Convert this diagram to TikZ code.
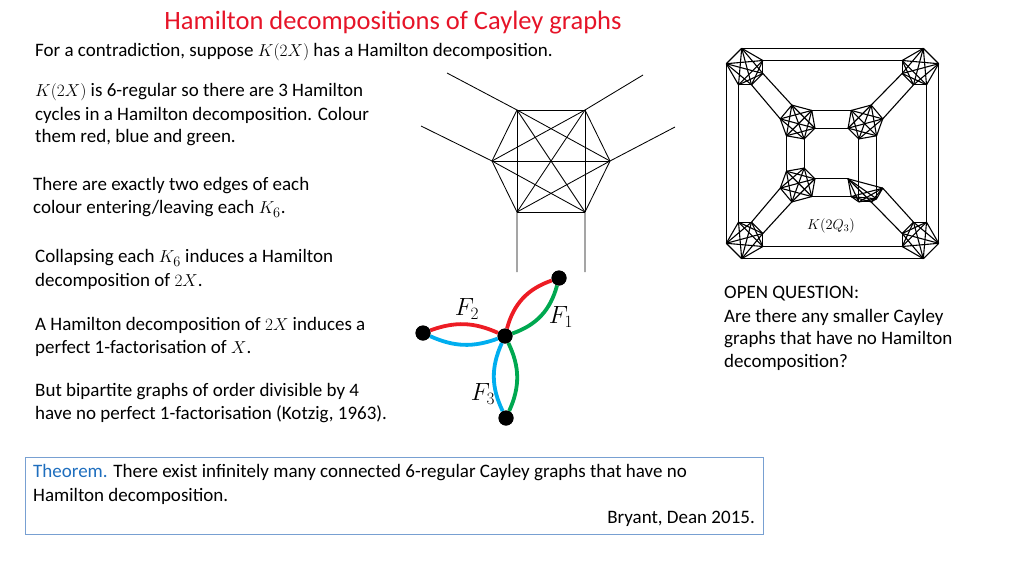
\documentclass[tikz,border=0pt]{standalone}
\usepackage{fontspec}
\setmainfont{Carlito}
\usetikzlibrary{calc}
\definecolor{tred}{RGB}{230,20,40}
\definecolor{fred}{RGB}{237,28,36}
\definecolor{fblue}{RGB}{0,174,239}
\definecolor{fgreen}{RGB}{0,168,80}
\definecolor{boxblue}{RGB}{120,160,210}
\definecolor{thblue}{RGB}{30,110,190}
\newcommand\kcl[5]{%
 \foreach \a [count=\i] in {#5} {\coordinate (#1-\i) at ($(#2,#3)+({#4*cos(\a)},{-#4*sin(\a)})$);}
 \foreach \i in {1,...,6}{\foreach \j in {\i,...,6}{\ifnum\i<\j \draw[kline] (#1-\i)--(#1-\j);\fi}}}
\begin{document}
\begin{tikzpicture}[x=1pt,y=-1pt,
 txt/.style={anchor=west,inner sep=0pt,font=\fontsize{19}{22}\selectfont},
 kline/.style={line width=1.1pt},
 hline/.style={line width=0.85pt},
 dot/.style={circle,fill=black,minimum size=15pt,inner sep=0pt},
 flab/.style={font=\fontsize{25}{28}\selectfont},
 fedge/.style={line width=3.8pt}]
\useasboundingbox (0,0) rectangle (1024,576);
\node[font=\fontsize{26.5}{30}\selectfont,text=tred] (title) at (393,23) {Hamilton decompositions of Cayley graphs};
\node[txt] (t1) at (35,52) {For a contradiction, suppose $K(2X)$ has a Hamilton decomposition.};
\node[txt] (t2) at (35,92) {$K(2X)$ is 6-regular so there are 3 Hamilton};
\node[txt] (t3) at (35,115) {cycles in a Hamilton decomposition. Colour};
\node[txt] (t4) at (35,138) {them red, blue and green.};
\node[txt] (t5) at (33,186) {There are exactly two edges of each};
\node[txt] (t6) at (33,209) {colour entering/leaving each $K_6$.};
\node[txt] (t7) at (35,258) {Collapsing each $K_6$ induces a Hamilton};
\node[txt] (t8) at (35,281) {decomposition of $2X$.};
\node[txt] (t9) at (35,325) {A Hamilton decomposition of $2X$ induces a};
\node[txt] (t10) at (35,348) {perfect 1-factorisation of $X$.};
\node[txt] (t11) at (35,392) {But bipartite graphs of order divisible by 4};
\node[txt] (t12) at (35,414) {have no perfect 1-factorisation (Kotzig, 1963).};
\node[txt] (o1) at (724,294) {OPEN QUESTION:};
\node[txt] (o2) at (724,317) {Are there any smaller Cayley};
\node[txt] (o3) at (724,340) {graphs that have no Hamilton};
\node[txt] (o4) at (724,362) {decomposition?};
% theorem box
\draw[boxblue,line width=0.8pt] (25,457) rectangle (763,534);
\node[txt] (th1) at (33,473) {\textcolor{thblue}{Theorem.} There exist infinitely many connected 6-regular Cayley graphs that have no};
\node[txt] (th2) at (33,496) {Hamilton decomposition.};
\node[txt,anchor=east] (th3) at (755,519) {Bryant, Dean 2015.};
% hexagon K6
\foreach \n/\x/\y in {h1/517/110,h2/585/110,h3/610/161,h4/585/212,h5/517/212,h6/492/161}{\coordinate (\n) at (\x,\y);}
\foreach \i in {1,...,6}{\foreach \j in {\i,...,6}{\ifnum\i<\j \draw[hline] (h\i)--(h\j);\fi}}
\coordinate (e1) at (447,73); \coordinate (e2) at (421,126);
\coordinate (e3) at (643,75); \coordinate (e4) at (675,127);
\coordinate (e5) at (517,272); \coordinate (e6) at (585,272);
\draw[hline] (h1)--(e1) (h6)--(e2) (h2)--(e3) (h3)--(e4) (h5)--(e5) (h4)--(e6);
% F graph
\node[dot] (C) at (505,336) {};
\node[dot] (T) at (559,278) {};
\node[dot] (L) at (423,333) {};
\node[dot] (B) at (506,418) {};
\draw[fedge,fred] (C) to[bend left=28] (T);
\draw[fedge,fgreen] (C) to[bend right=28] (T);
\draw[fedge,fred] (C) to[bend right=22] (L);
\draw[fedge,fblue] (C) to[bend left=22] (L);
\draw[fedge,fblue] (C) to[bend right=25] (B);
\draw[fedge,fgreen] (C) to[bend left=25] (B);
\node[dot] at (C) {}; \node[dot] at (T) {}; \node[dot] at (L) {}; \node[dot] at (B) {};
\node[flab] (F2) at (467,309) {$F_2$};
\node[flab] (F1) at (561,317) {$F_1$};
\node[flab] (F3) at (483,394) {$F_3$};
% K(2Q3)
\kcl{TL}{745}{67}{19}{100,20,170,250,-20,-70}
\kcl{TR}{920}{67}{19}{80,160,10,-70,200,250}
\kcl{BL}{745}{240}{19}{-100,-20,-170,-250,20,70}
\kcl{BR}{920}{240}{19}{280,200,350,430,160,110}
\kcl{iTL}{798}{122}{18}{40,-20,230,290,170,110}
\kcl{iTR}{865}{122}{18}{140,200,-50,-110,10,70}
\kcl{iBL}{798}{185}{18}{-40,20,130,70,190,250}
\kcl{iBR}{865}{185}{18}{220,160,310,250,350,290}
\draw[kline] (TL-1)--(TR-1) (TL-2)--(TR-2) (TL-3)--(BL-3) (TL-4)--(BL-4)
 (BL-1)--(BR-1) (BL-2)--(BR-2) (TR-3)--(BR-3) (TR-4)--(BR-4);
\foreach \c in {TL,TR,BL,BR}{\draw[kline] (\c-5)--(i\c-6) (\c-6)--(i\c-5);}
\draw[kline] (iTL-1)--(iTR-1) (iTL-2)--(iTR-2) (iTL-3)--(iBL-3) (iTL-4)--(iBL-4)
 (iBL-1)--(iBR-1) (iBL-2)--(iBR-2) (iTR-3)--(iBR-3) (iTR-4)--(iBR-4);
\node[font=\fontsize{14}{16}\selectfont] (klab) at (831,226) {$K(2Q_3)$};
\end{tikzpicture}
\end{document}
